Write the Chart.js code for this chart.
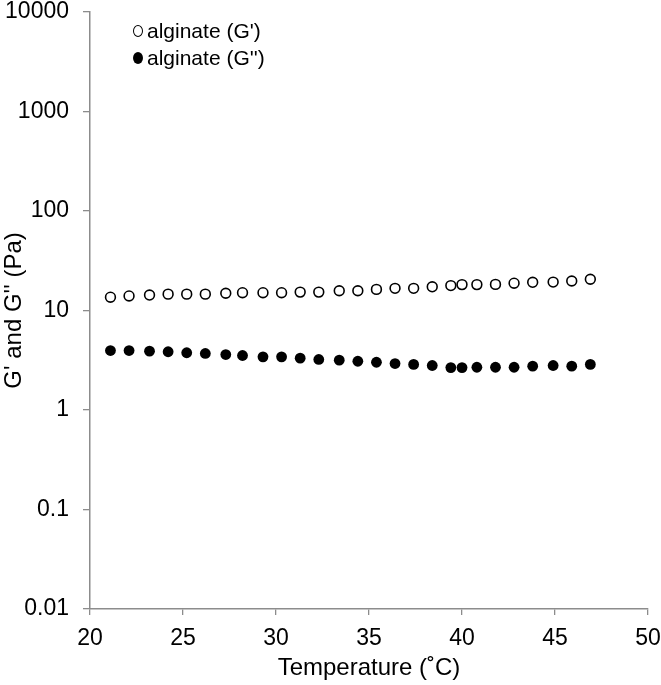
<!DOCTYPE html>
<html>
<head>
<meta charset="utf-8">
<script src="https://cdn.jsdelivr.net/npm/chart.js@4/dist/chart.umd.min.js"></script>
<style>
  html, body { margin: 0; padding: 0; background: #fff; }
  #wrap { position: relative; width: 661px; height: 685px; }
  #legend { position: absolute; left: 133px; top: 17px; font-family: "Liberation Sans", Arial, sans-serif; font-size: 21px; color: #000; line-height: 27px; }
  #legend .item { display: flex; align-items: center; }
  #legend .mk { display: inline-block; width: 10px; height: 12px; border-radius: 50%; box-sizing: border-box; margin-right: 4px; }
</style>
</head>
<body>
<div id="wrap">
  <canvas id="c" width="661" height="685"></canvas>
  <div id="legend"></div>
</div>
<script>
const temperatures = [21.1, 22.1, 23.2, 24.2, 25.2, 26.2, 27.3, 28.2, 29.3, 30.3, 31.3, 32.3, 33.4, 34.4, 35.4, 36.4, 37.4, 38.4, 39.4, 40.0, 40.8, 41.8, 42.8, 43.8, 44.9, 45.9, 46.9];
const gPrime = [13.6, 14.0, 14.3, 14.6, 14.6, 14.6, 14.9, 15.1, 15.1, 15.1, 15.3, 15.3, 15.8, 15.8, 16.3, 16.7, 16.7, 17.3, 17.8, 18.2, 18.2, 18.3, 18.8, 19.2, 19.3, 19.8, 20.6];
const gDoublePrime = [3.96, 3.96, 3.90, 3.85, 3.76, 3.70, 3.61, 3.53, 3.42, 3.42, 3.32, 3.22, 3.17, 3.09, 3.02, 2.93, 2.87, 2.80, 2.67, 2.67, 2.69, 2.69, 2.69, 2.76, 2.80, 2.76, 2.87];
const seriesLabels = ["alginate (G')", "alginate (G'')"];
const yTickValues = [0.01, 0.1, 1, 10, 100, 1000, 10000];
const yTickLabels = ["0.01", "0.1", "1", "10", "100", "1000", "10000"];
const xTickValues = [20, 25, 30, 35, 40, 45, 50];
const xTitle = "Temperature (\u02daC)";
const yTitle = "G' and G'' (Pa)";

const FONT = "'Liberation Sans', Arial, sans-serif";
const AXIS = '#8c8c8c';

const ds = [
  { label: seriesLabels[0], data: temperatures.map((t, i) => ({x: t, y: gPrime[i]})),
    pointRadius: 4.9, pointBorderWidth: 1.6, pointBackgroundColor: '#fff', pointBorderColor: '#000', showLine: false },
  { label: seriesLabels[1], data: temperatures.map((t, i) => ({x: t, y: gDoublePrime[i]})),
    pointRadius: 5.4, pointBorderWidth: 0, pointBackgroundColor: '#000', pointBorderColor: '#000', showLine: false }
];

// HTML legend
const leg = document.getElementById('legend');
ds.forEach((d) => {
  const row = document.createElement('div'); row.className = 'item';
  const mk = document.createElement('span'); mk.className = 'mk';
  if (d.pointBackgroundColor === '#fff') { mk.style.border = '1.5px solid #000'; mk.style.background = '#fff'; }
  else { mk.style.background = '#000'; }
  row.appendChild(mk);
  const tx = document.createElement('span'); tx.textContent = d.label; row.appendChild(tx);
  leg.appendChild(row);
});

new Chart(document.getElementById('c'), {
  type: 'scatter',
  data: { datasets: ds },
  options: {
    responsive: false,
    animation: false,
    events: [],
    layout: { padding: { top: 12, right: 13, left: 0, bottom: 0 } },
    plugins: { legend: { display: false }, tooltip: { enabled: false } },
    scales: {
      x: {
        type: 'linear', min: 20, max: 50,
        afterBuildTicks: (s) => { s.ticks = xTickValues.map(v => ({value: v})); },
        afterFit: (s) => { s.height = 76; s.paddingLeft = 0; s.paddingRight = 0; },
        grid: { display: true, drawOnChartArea: false, drawTicks: true, tickLength: 6, color: AXIS, lineWidth: 1.3 },
        border: { display: true, color: AXIS, width: 1.5 },
        ticks: { color: '#000', font: { family: FONT, size: 23 }, padding: 10, maxRotation: 0 },
        title: { display: true, text: xTitle, color: '#000', font: { family: FONT, size: 24 }, padding: { top: 0, bottom: 2 } }
      },
      y: {
        type: 'logarithmic', min: 0.01, max: 10000,
        afterBuildTicks: (s) => { s.ticks = yTickValues.map(v => ({value: v})); },
        afterFit: (s) => { s.width = 90; s.paddingTop = 0; s.paddingBottom = 0; },
        grid: { display: true, drawOnChartArea: false, drawTicks: true, tickLength: 7, color: AXIS, lineWidth: 1.3 },
        border: { display: true, color: AXIS, width: 1.5 },
        ticks: { color: '#000', font: { family: FONT, size: 23 }, padding: 14,
          callback: (v) => { const i = yTickValues.indexOf(v); return i >= 0 ? yTickLabels[i] : ''; } },
        title: { display: true, text: yTitle, color: '#000', font: { family: FONT, size: 24 }, padding: { top: 0, bottom: 0 } }
      }
    }
  }
});
</script>
</body>
</html>
